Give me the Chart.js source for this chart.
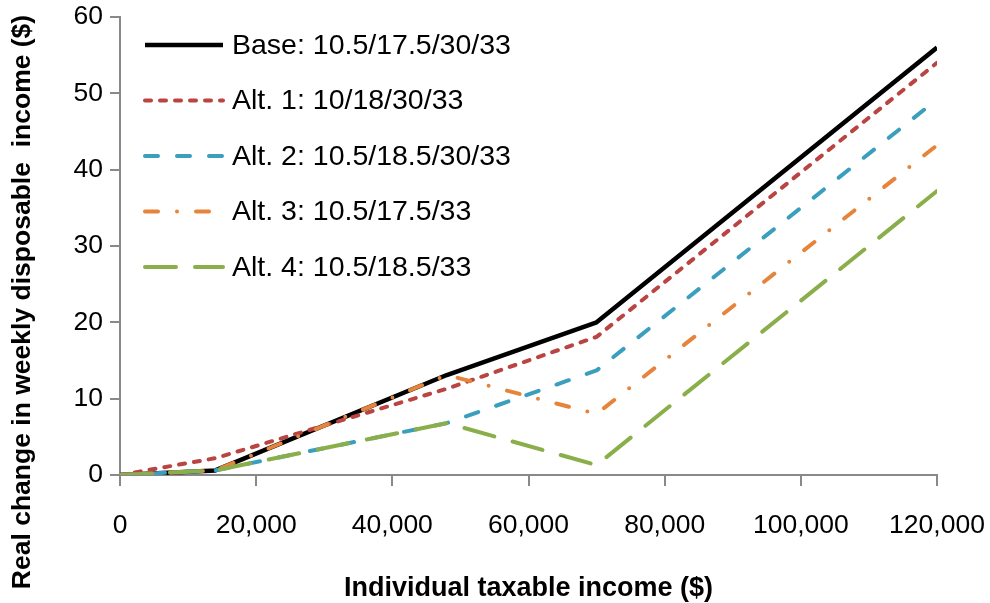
<!DOCTYPE html>
<html>
<head>
<meta charset="utf-8">
<script src="https://cdn.jsdelivr.net/npm/chart.js@4.4.1/dist/chart.umd.min.js"></script>
<style>
  html, body { margin: 0; padding: 0; background: #fff; }
  #wrap { width: 990px; height: 603px; }
</style>
</head>
<body>
<div id="wrap"><canvas id="chart" width="990" height="603"></canvas></div>
<script>
// income points (the kinks in the NZ tax schedule) and change in weekly income per scenario
const incomes = [0, 14000, 48000, 70000, 120000];
const baseVals = [0, 0.6, 13.1, 20.0, 56.0];
const alt1Vals = [0, 2.2, 11.3, 18.1, 54.0];
const alt2Vals = [0, 0.6, 6.8, 13.7, 49.2];
const alt3Vals = [0, 0.6, 13.1, 8.0, 43.2];
const alt4Vals = [0, 0.6, 6.8, 1.3, 37.2];

const seriesLabels = [
    "Base: 10.5/17.5/30/33",
    "Alt. 1: 10/18/30/33",
    "Alt. 2: 10.5/18.5/30/33",
    "Alt. 3: 10.5/17.5/33",
    "Alt. 4: 10.5/18.5/33"
];
const xTicks = [0, 20000, 40000, 60000, 80000, 100000, 120000];
const yTicks = [0, 10, 20, 30, 40, 50, 60];
const xTitle = "Individual taxable income ($)";
const yTitle = "Real change in weekly disposable  income ($)";

const FONT = "'Liberation Sans', Arial, sans-serif";
const AXIS_GREY = "#898989";

function toPoints(vals) {
    return incomes.map((x, i) => ({ x: x, y: vals[i] }));
}

const styles = [
    { color: "#000000", dash: [] },
    { color: "#b94441", dash: [6, 9] },
    { color: "#3a9ebd", dash: [13, 19] },
    { color: "#e5843a", dash: [13, 19, 0, 19] },
    { color: "#8aae4a", dash: [31, 19] }
];
const allVals = [baseVals, alt1Vals, alt2Vals, alt3Vals, alt4Vals];

const datasets = allVals.map((vals, i) => ({
    label: seriesLabels[i],
    data: toPoints(vals),
    borderColor: styles[i].color,
    backgroundColor: styles[i].color,
    borderDash: styles[i].dash,
    borderWidth: i === 0 ? 4.5 : 4,
    borderCapStyle: i === 0 ? "butt" : "round",
    borderJoinStyle: "round",
    pointRadius: 0,
    tension: 0,
    order: 4 - i   // later series drawn on top, like the original
}));

// legend inside the plot area (top-left) and the two axis titles
const extras = {
    id: "extras",
    afterDatasetsDraw(chart) {
        const ctx = chart.ctx;
        const area = chart.chartArea;
        ctx.save();
        chart.data.datasets.forEach((ds, i) => {
            const y = area.top + 28 + i * 55.5;
            ctx.beginPath();
            ctx.strokeStyle = ds.borderColor;
            ctx.lineWidth = ds.borderWidth;
            ctx.lineCap = ds.borderCapStyle;
            ctx.setLineDash(ds.borderDash);
            ctx.moveTo(area.left + 25, y);
            ctx.lineTo(area.left + 103, y);
            ctx.stroke();
            ctx.setLineDash([]);
            ctx.fillStyle = "#000";
            ctx.font = "28.5px " + FONT;
            ctx.textBaseline = "middle";
            ctx.textAlign = "left";
            ctx.fillText(ds.label, area.left + 112, y + 1);
        });

        ctx.fillStyle = "#000";
        ctx.font = "bold 27px " + FONT;
        ctx.textAlign = "center";
        ctx.textBaseline = "alphabetic";
        ctx.fillText(xTitle, (area.left + area.right) / 2, 596);

        ctx.translate(30, 302);
        ctx.rotate(-Math.PI / 2);
        ctx.font = "bold 26.5px " + FONT;
        ctx.fillText(yTitle, 0, 0);
        ctx.restore();
    }
};

new Chart(document.getElementById("chart"), {
    type: "line",
    data: { datasets: datasets },
    plugins: [extras],
    options: {
        responsive: false,
        animation: false,
        layout: { padding: { top: 17, right: 53, left: 0, bottom: 0 } },
        plugins: {
            legend: { display: false },
            tooltip: { enabled: false }
        },
        scales: {
            x: {
                type: "linear",
                min: 0,
                max: 120000,
                afterFit(scale) {
                    scale.height = 128;
                    scale.paddingLeft = 0;
                    scale.paddingRight = 0;
                },
                afterBuildTicks(scale) { scale.ticks = xTicks.map(v => ({ value: v })); },
                grid: { drawOnChartArea: false, drawTicks: true, tickLength: 11, color: AXIS_GREY, lineWidth: 2 },
                border: { color: AXIS_GREY, width: 2 },
                ticks: {
                    padding: 24,
                    color: "#000",
                    font: { family: FONT, size: 26.5 },
                    maxRotation: 0,
                    callback: v => v.toLocaleString("en-US")
                }
            },
            y: {
                min: 0,
                max: 60,
                afterFit(scale) {
                    scale.width = 120;
                    scale.paddingTop = 0;
                    scale.paddingBottom = 0;
                },
                afterBuildTicks(scale) { scale.ticks = yTicks.map(v => ({ value: v })); },
                grid: { drawOnChartArea: false, drawTicks: true, tickLength: 10, color: AXIS_GREY, lineWidth: 2 },
                border: { color: AXIS_GREY, width: 2 },
                ticks: {
                    padding: 7,
                    color: "#000",
                    font: { family: FONT, size: 26.5 }
                }
            }
        }
    }
});
</script>
</body>
</html>
